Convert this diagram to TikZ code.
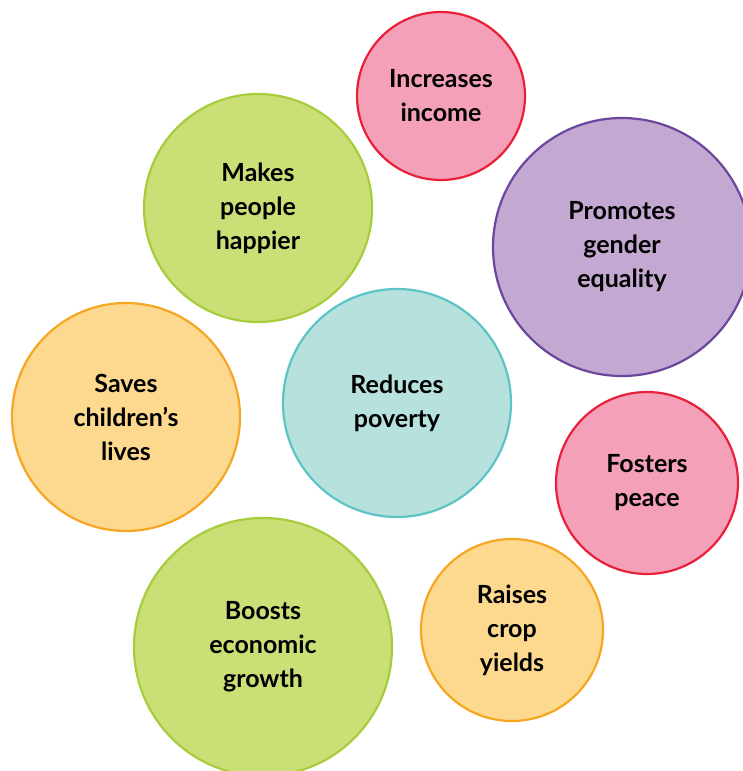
\documentclass[tikz,border=0pt]{standalone}
\usepackage{fontspec}
\setmainfont{Lato}
\definecolor{pinkfill}{HTML}{F5A0B9}
\definecolor{pinkline}{HTML}{E8203A}
\definecolor{greenfill}{HTML}{CBDF77}
\definecolor{greenline}{HTML}{A5CD3C}
\definecolor{purplefill}{HTML}{C3A8D1}
\definecolor{purpleline}{HTML}{6A469D}
\definecolor{yellowfill}{HTML}{FDD98F}
\definecolor{yellowline}{HTML}{F6A623}
\definecolor{tealfill}{HTML}{B6E1DD}
\definecolor{tealline}{HTML}{5CC4C4}
\tikzset{
  bubble/.style={circle,line width=2.2pt,inner sep=0pt,align=center,
    font=\fontsize{25}{34}\selectfont\bfseries},
  pinkb/.style={bubble,fill=pinkfill,draw=pinkline},
  greenb/.style={bubble,fill=greenfill,draw=greenline},
  purpleb/.style={bubble,fill=purplefill,draw=purpleline},
  yellowb/.style={bubble,fill=yellowfill,draw=yellowline},
  tealb/.style={bubble,fill=tealfill,draw=tealline}
}
\begin{document}
\begin{tikzpicture}[line cap=round,line join=round,x=1pt,y=-1pt]
\useasboundingbox (0,0) rectangle (743,771);
\clip (0,0) rectangle (743,771);
% bubbles, diameters in pt
\node[pinkb,minimum size=168pt] (income) at (441,96) {Increases\\income};
\node[greenb,minimum size=228pt] (happier) at (258,208) {Makes\\people\\happier};
\node[purpleb,minimum size=258pt] (gender) at (622,247) {Promotes\\gender\\equality};
\node[yellowb,minimum size=228pt] (lives) at (126,417) {Saves\\children’s\\lives};
\node[tealb,minimum size=228pt] (poverty) at (397,403) {Reduces\\poverty};
\node[pinkb,minimum size=182pt] (peace) at (647,483) {Fosters\\peace};
\node[greenb,minimum size=258pt] (growth) at (263,647) {Boosts\\economic\\growth};
\node[yellowb,minimum size=182pt] (crops) at (512,630) {Raises\\crop\\yields};
\end{tikzpicture}
\end{document}
